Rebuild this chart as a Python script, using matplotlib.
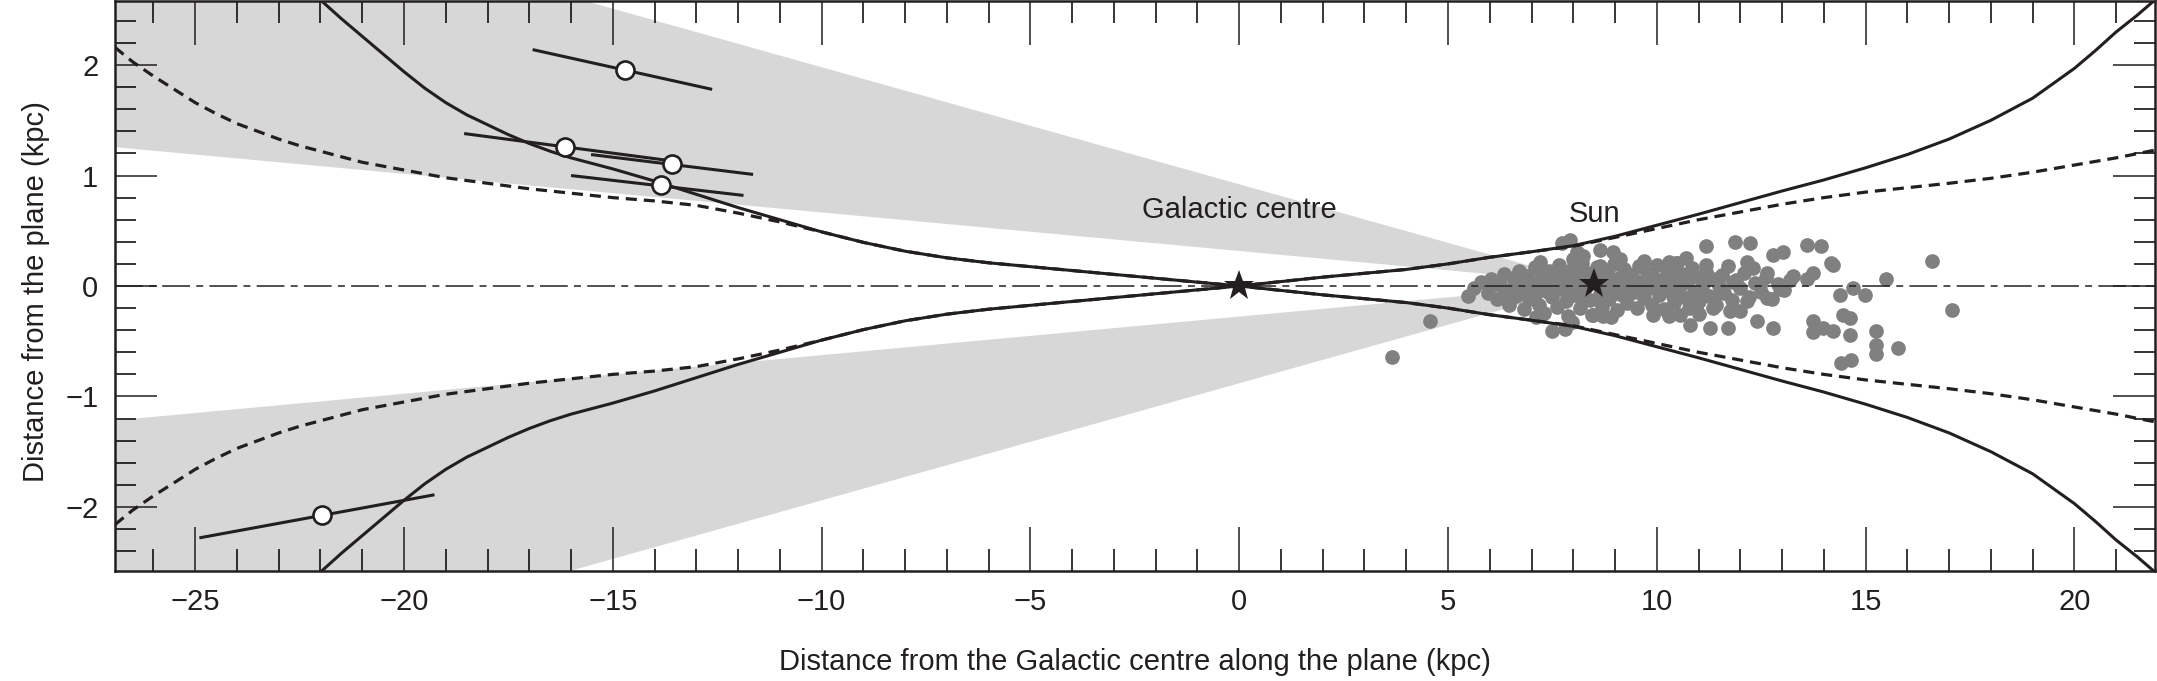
import matplotlib
matplotlib.use('Agg')
import matplotlib.pyplot as plt
import numpy as np
from matplotlib.ticker import MultipleLocator

plt.rcParams['font.family'] = ['Liberation Sans', 'DejaVu Sans']
plt.rcParams['lines.scale_dashes'] = False

BLACK = '#231f20'
GREY_FILL = '#d7d7d7'
GREY_PTS = '#808080'

# ---------------- data ----------------
x_limits = (-26.92, 21.93)
z_limits = (-2.58, 2.58)

# warp / flare model curves (|z| above and below plane)
solid_x = [-22.0, -21.5, -21.0, -20.5, -20.0, -19.5, -19.0, -18.5, -18.0, -17.5, -17.0, -16.5, -16.0,
           -15.5, -15.0, -14.0, -13.0, -12.0, -11.0, -10.0, -9.0, -8.0, -7.0, -6.0, -5.0, -4.0, -3.0,
           -2.0, -1.0, 0.0, 1.0, 2.0, 3.0, 4.0, 5.0, 6.0, 7.0, 8.0, 9.0, 10.0, 11.0, 12.0, 13.0,
           14.0, 15.0, 16.0, 17.0, 18.0, 19.0, 20.0, 20.5, 21.0, 21.5, 21.93]
solid_z = [2.59, 2.42, 2.26, 2.10, 1.94, 1.79, 1.66, 1.55, 1.46, 1.37, 1.29, 1.22, 1.16,
           1.11, 1.06, 0.95, 0.83, 0.71, 0.60, 0.49, 0.395, 0.315, 0.255, 0.21, 0.175, 0.14, 0.105,
           0.07, 0.035, 0.0, 0.04, 0.08, 0.115, 0.15, 0.20, 0.26, 0.31, 0.365, 0.45, 0.55, 0.65, 0.755, 0.86,
           0.96, 1.07, 1.19, 1.33, 1.50, 1.70, 1.97, 2.13, 2.30, 2.45, 2.59]

dash_x = [-26.92, -26.5, -26.0, -25.5, -25.0, -24.5, -24.0, -23.5, -23.0, -22.5, -22.0, -21.0,
          -20.0, -19.0, -18.0, -17.0, -16.0, -15.0, -14.0, -13.0, -12.0, -11.0, -10.0, -9.0,
          -8.0, -7.0, -6.0, -5.0, -4.0, -3.0, -2.0, -1.0, 0.0, 1.0, 2.0, 3.0, 4.0, 5.0, 6.0,
          7.0, 8.0, 9.0, 10.0, 11.0, 12.0, 13.0, 14.0, 15.0, 16.0, 17.0, 18.0, 19.0, 20.0, 21.0, 21.93]
dash_z = [2.16, 2.03, 1.90, 1.78, 1.66, 1.56, 1.47, 1.40, 1.33, 1.27, 1.22, 1.12,
          1.05, 0.98, 0.93, 0.88, 0.84, 0.80, 0.77, 0.73, 0.66, 0.58, 0.49, 0.395,
          0.315, 0.255, 0.21, 0.175, 0.14, 0.105, 0.07, 0.035, 0.0, 0.04, 0.08, 0.115, 0.15, 0.20, 0.26,
          0.31, 0.36, 0.44, 0.52, 0.60, 0.67, 0.74, 0.80, 0.85, 0.89, 0.93, 0.975, 1.03, 1.095, 1.16, 1.23]

# observed tracers with extent segments
seg_x0 = [-16.92, -18.56, -15.52, -16.00, -24.90]
seg_z0 = [2.14, 1.38, 1.19, 1.00, -2.28]
seg_x1 = [-12.62, -13.74, -11.64, -11.87, -19.27]
seg_z1 = [1.78, 1.14, 1.01, 0.82, -1.89]
circ_x = [-14.70, -16.15, -13.58, -13.84, -21.97]
circ_z = [1.955, 1.26, 1.10, 0.914, -2.07]

# Sun / Galactic centre
gc_x, gc_z = 0.0, 0.0
sun_x, sun_z = 8.5, 0.02
# shaded latitude bands seen from the Sun (degrees)
band_lat = [2.0, 6.05]

# grey star sample
stars_xz = [
    (3.65, -0.64), (4.57, -0.32),
    (5.49, -0.09), (5.62, -0.02), (5.78, 0.04), (5.95, -0.06), (6.02, 0.06), (6.18, -0.12), (6.25, 0.01), (6.33, 0.11),
    (6.41, -0.05), (6.47, -0.17), (6.55, 0.07), (6.63, -0.09), (6.70, 0.14), (6.76, 0.00), (6.82, -0.21), (6.88, 0.09),
    (6.95, -0.12), (7.02, 0.04), (7.08, 0.17), (7.13, -0.05), (7.19, -0.17), (7.26, 0.10), (7.31, -0.24), (7.37, 0.01),
    (7.43, 0.14), (7.48, -0.10), (7.55, 0.06), (7.60, -0.19), (7.66, 0.19), (7.71, -0.03), (7.77, 0.10), (7.82, -0.14),
    (7.88, -0.27), (7.93, 0.03), (7.99, 0.16), (8.04, -0.08), (8.10, 0.08), (8.15, -0.20), (8.21, 0.21), (8.27, -0.02),
    (8.33, 0.12), (8.39, -0.13), (8.45, -0.26), (8.52, 0.06), (8.58, 0.17), (8.63, -0.07), (8.69, -0.19), (8.75, 0.03),
    (8.81, 0.13), (8.86, -0.12), (8.92, -0.01), (8.98, 0.20), (9.04, -0.22), (9.10, 0.07), (9.16, -0.08), (9.22, 0.15),
    (9.28, -0.15), (9.34, 0.01), (9.40, 0.10), (9.46, -0.05), (9.52, -0.20), (9.58, 0.18), (9.64, 0.04), (9.70, -0.11),
    (9.76, 0.12), (9.82, -0.02), (9.88, -0.17), (9.94, 0.07), (10.00, 0.19), (10.06, -0.08), (10.12, 0.02), (10.18, -0.21),
    (10.24, 0.13), (10.30, -0.04), (10.36, 0.08), (10.42, -0.15), (10.48, 0.21), (10.54, -0.01), (10.60, 0.11), (10.66, -0.10),
    (10.72, 0.04), (10.78, -0.20), (10.84, 0.16), (10.90, -0.05), (10.96, 0.08), (11.02, -0.14), (11.10, 0.02), (11.18, 0.13),
    (11.26, -0.09), (11.34, 0.06), (11.42, -0.17), (11.50, 0.00),
    (6.10, 0.02), (6.36, -0.10), (6.58, 0.00), (6.85, -0.04), (7.05, -0.09), (7.22, 0.03), (7.40, -0.05), (7.58, 0.11),
    (7.74, 0.05), (7.90, -0.09), (8.08, 0.00), (8.25, -0.09), (8.40, 0.05), (8.60, -0.12), (8.78, 0.08), (8.95, -0.06),
    (9.13, 0.02), (9.30, 0.08), (9.48, 0.03), (9.66, -0.05), (9.84, 0.05), (10.02, -0.03), (10.20, 0.06), (10.38, -0.09),
    (10.56, 0.03), (10.74, 0.10), (10.92, -0.12), (11.08, -0.06),
    (7.20, 0.22), (8.00, 0.24), (9.70, 0.23), (10.30, 0.22), (7.10, -0.28), (8.90, -0.28), (9.90, -0.26), (10.30, -0.27),
    (11.00, -0.25),
    (11.55, 0.10), (11.62, -0.06), (11.70, 0.18), (11.80, -0.13), (11.90, 0.05), (12.00, -0.02), (12.10, 0.12), (12.20, -0.10),
    (12.35, 0.03), (12.50, -0.05), (12.62, 0.08), (12.75, -0.12), (12.90, 0.02), (13.05, -0.04), (13.20, 0.05),
    (7.72, 0.39), (7.92, 0.42), (8.08, 0.31), (8.24, 0.27), (8.64, 0.33), (8.96, 0.31), (9.12, 0.24), (8.64, 0.18),
    (7.48, -0.41), (7.80, -0.39), (7.96, -0.33), (8.48, -0.26), (8.72, -0.27),
    (10.47, 0.21), (10.71, 0.25), (11.19, 0.19), (11.19, 0.36), (11.87, 0.40), (12.23, 0.39), (12.15, 0.22), (12.31, 0.16),
    (12.63, 0.12), (12.79, 0.28), (13.03, 0.31), (13.27, 0.09), (13.59, 0.37), (13.94, 0.36), (13.75, 0.12), (13.59, 0.06),
    (14.18, 0.21),
    (10.79, -0.35), (11.27, -0.38), (11.71, -0.38), (12.39, -0.32), (12.79, -0.38), (11.75, -0.23), (11.99, -0.23),
    (11.35, -0.20), (10.95, -0.20), (10.55, -0.26), (12.15, -0.14), (12.63, -0.11), (11.51, -0.05), (11.83, 0.04),
    (12.47, 0.01), (12.95, -0.03),
    (13.75, -0.32), (13.75, -0.42), (13.98, -0.38), (14.22, -0.41), (14.46, -0.26), (14.62, -0.29), (14.62, -0.44),
    (14.38, -0.08), (14.70, -0.02),
    (16.58, 0.23), (17.08, -0.22), (15.49, 0.06), (15.78, -0.56), (15.25, -0.41), (15.25, -0.53), (15.25, -0.62),
    (14.66, -0.67), (14.41, -0.70), (14.98, -0.08), (14.23, 0.19),
]

x_label = 'Distance from the Galactic centre along the plane (kpc)'
y_label = 'Distance from the plane (kpc)'

FS = 21

# ---------------- figure ----------------
W, H = 2157, 681
fig = plt.figure(figsize=(W / 100, H / 100), dpi=100)
ax = fig.add_axes([115 / W, 110 / H, 2040 / W, 570 / H])
ax.set_xlim(*x_limits)
ax.set_ylim(*z_limits)

# shaded latitude wedges with apex at the Sun
far_x = x_limits[0] - 1.0
dist = sun_x - far_x
for sgn in (1, -1):
    zlo = sun_z + sgn * dist * np.tan(np.radians(band_lat[0]))
    zhi = sun_z + sgn * dist * np.tan(np.radians(band_lat[1]))
    ax.fill([sun_x, far_x, far_x], [sun_z, zlo, zhi], color=GREY_FILL, lw=0, zorder=1)

# star sample
sxz = np.array(stars_xz)
ax.scatter(sxz[:, 0], sxz[:, 1], s=112, c=GREY_PTS, lw=0, zorder=2)

# plane
ax.axhline(0, color=BLACK, lw=1.1, ls=(0, (20, 4.5, 5, 4.5)), zorder=3)

sx = np.array(solid_x); sz = np.array(solid_z)
dx = np.array(dash_x); dz = np.array(dash_z)
for sgn in (1, -1):
    ax.plot(dx, sgn * dz, color=BLACK, lw=2.3, ls=(0, (8, 5)), zorder=4)
    ax.plot(sx, sgn * sz, color=BLACK, lw=2.2, zorder=4, solid_capstyle='butt', solid_joinstyle='round')

for x0, z0, x1, z1 in zip(seg_x0, seg_z0, seg_x1, seg_z1):
    ax.plot([x0, x1], [z0, z1], color=BLACK, lw=2.2, zorder=5, solid_capstyle='butt')
ax.plot(circ_x, circ_z, ls='none', marker='o', ms=13, mfc='white', mec=BLACK, mew=1.9, zorder=6)

ax.plot([gc_x, sun_x], [gc_z, sun_z], ls='none', marker='*', ms=23, color=BLACK, mew=0, zorder=7)

ax.text(gc_x, 0.69, 'Galactic centre', ha='center', va='center', fontsize=FS, color=BLACK, zorder=8)
ax.text(sun_x, 0.65, 'Sun', ha='center', va='center', fontsize=FS, color=BLACK, zorder=8)

# axes styling
ax.xaxis.set_major_locator(MultipleLocator(5))
ax.xaxis.set_minor_locator(MultipleLocator(1))
ax.yaxis.set_major_locator(MultipleLocator(1))
ax.yaxis.set_minor_locator(MultipleLocator(0.2))
ax.tick_params(axis='x', which='major', direction='in', length=32, width=1.1, top=True, bottom=True,
               pad=12, labelsize=FS, colors=BLACK)
ax.tick_params(axis='x', which='minor', direction='in', length=16, width=1.1, top=True, bottom=True)
ax.tick_params(axis='y', which='major', direction='in', length=30, width=1.1, left=True, right=True,
               pad=12, labelsize=FS, colors=BLACK)
ax.tick_params(axis='y', which='minor', direction='in', length=15, width=1.1, left=True, right=True)
for sp in ax.spines.values():
    sp.set_linewidth(1.8)
    sp.set_color(BLACK)

ax.set_xlabel(x_label, fontsize=FS, color=BLACK)
ax.set_ylabel(y_label, fontsize=FS, color=BLACK)
ax.xaxis.set_label_coords(0.5, -0.135)
ax.yaxis.set_label_coords(-0.032, 0.49)

fig.savefig('out.png', dpi=100)
